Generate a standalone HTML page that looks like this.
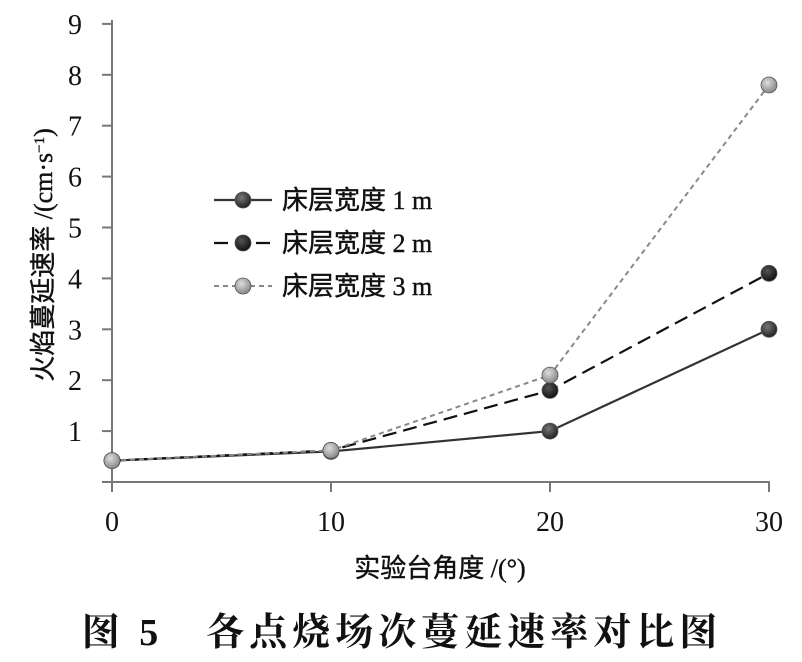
<!DOCTYPE html>
<html><head><meta charset="utf-8"><style>
body{margin:0;background:#fff;width:802px;height:657px;overflow:hidden}
svg text{font-family:"Liberation Serif","Noto Serif CJK SC",serif;fill:#111}
</style></head><body>
<svg id="chart" width="802" height="657" viewBox="0 0 802 657" xmlns="http://www.w3.org/2000/svg">
<defs>
<radialGradient id="gDark" cx="40%" cy="35%" r="65%"><stop offset="0" stop-color="#777"/><stop offset="1" stop-color="#222"/></radialGradient>
<radialGradient id="gBlack" cx="40%" cy="35%" r="65%"><stop offset="0" stop-color="#555"/><stop offset="1" stop-color="#111"/></radialGradient>
<radialGradient id="gLight" cx="40%" cy="35%" r="65%"><stop offset="0" stop-color="#ddd"/><stop offset="1" stop-color="#888"/></radialGradient>
</defs>
<g id="axes"></g>
<g id="series"></g>
<g id="legend"></g>
<text transform="translate(52,255) rotate(-90)" text-anchor="middle" font-size="26" stroke="#111" stroke-width="0.4" style="font-family:'Liberation Serif','Noto Sans CJK SC',serif">火焰蔓延速率 /(cm·s<tspan baseline-shift="super" font-size="15">−1</tspan>)</text>
<text x="440" y="577" text-anchor="middle" font-size="26" stroke="#111" stroke-width="0.4" style="font-family:'Liberation Serif','Noto Sans CJK SC',serif">实验台角度 /(°)</text>
<text x="402" y="645" text-anchor="middle" font-size="38" style="font-family:'Liberation Serif','Noto Serif CJK SC',serif;font-weight:bold" letter-spacing="5">图 5　各点烧场次蔓延速率对比图</text>
</svg>
<script>
const categories=[0,10,20,30];
const yTicks=[1,2,3,4,5,6,7,8,9];
const xTickLabels=["0","10","20","30"];
const width1m=[0.42,0.60,1.00,3.00];
const width2m=[0.42,0.62,1.80,4.10];
const width3m=[0.42,0.62,2.10,7.80];
const seriesNames=["床层宽度 1 m","床层宽度 2 m","床层宽度 3 m"];
const NS="http://www.w3.org/2000/svg";
const x=v=>112+(v/30)*657;
const y=v=>482-v*50.9;
function mk(tag,attrs,parent){const e=document.createElementNS(NS,tag);for(const k in attrs)e.setAttribute(k,attrs[k]);parent.appendChild(e);return e;}
const axes=document.getElementById('axes');
let a=mk('line',{x1:112,y1:y(9)-4,x2:112,y2:492,stroke:'#777','stroke-width':2},axes);


a=mk('line',{x1:102,y1:482,x2:770,y2:482,stroke:'#777','stroke-width':2},axes);


yTicks.forEach(t=>{
  const tk=mk('line',{x1:102,y1:y(t),x2:112,y2:y(t),stroke:'#777','stroke-width':2},axes);
  
  
  const tl=mk('text',{x:82,y:y(t)+10,'text-anchor':'end','font-size':28},axes);
  tl.textContent=t;
  
  
});
categories.forEach((c,i)=>{
  const tk=mk('line',{x1:x(c),y1:482,x2:x(c),y2:492,stroke:'#777','stroke-width':2},axes);
  
  
  const tl=mk('text',{x:x(c),y:531,'text-anchor':'middle','font-size':28},axes);
  tl.textContent=xTickLabels[i];
  
  
});
const styles=[
  {data:width1m,stroke:'#333',dash:'',fill:'url(#gDark)',w:2.2},
  {data:width2m,stroke:'#111',dash:'14,7',fill:'url(#gBlack)',w:2.2},
  {data:width3m,stroke:'#888',dash:'5,4',fill:'url(#gLight)',w:2}
];
const sg=document.getElementById('series');
const lg=document.getElementById('legend');
[0,1,2].forEach(si=>{
  const s=styles[si];
  const g=mk('g',{},sg);
  
  
  const pts=categories.map((c,i)=>x(c)+','+y(s.data[i])).join(' ');
  mk('polyline',{points:pts,fill:'none',stroke:s.stroke,'stroke-width':s.w,'stroke-dasharray':s.dash},g);
  categories.forEach((c,i)=>{
    const p=mk('circle',{cx:x(c),cy:y(s.data[i]),r:8,fill:s.fill,stroke:'#555','stroke-width':0.8},g);
    
    
  });
});
styles.forEach((s,i)=>{
  const yy=200+i*43;
  const g=mk('g',{},lg);
  
  
  mk('line',{x1:214,y1:yy,x2:272,y2:yy,stroke:s.stroke,'stroke-width':s.w,'stroke-dasharray':s.dash},g);
  mk('circle',{cx:243,cy:yy,r:8,fill:s.fill,stroke:'#555','stroke-width':0.8},g);
  const t=mk('text',{x:282,y:yy+9,'font-size':26,stroke:'#111','stroke-width':0.4},g);
  t.setAttribute('style',"font-family:'Liberation Serif','Noto Sans CJK SC',serif");
  t.textContent=seriesNames[i];
});
</script>
</body></html>
